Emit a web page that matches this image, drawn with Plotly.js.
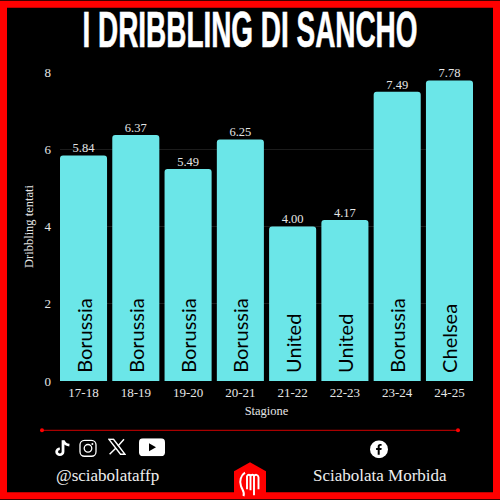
<!DOCTYPE html>
<html>
<head>
<meta charset="utf-8">
<script src="https://cdn.plot.ly/plotly-3.0.1.min.js"></script>
<style>
html,body{margin:0;padding:0;background:#000;width:500px;height:500px;overflow:hidden}
#chart{width:500px;height:500px}
.annotation[data-index="0"] text{transform:scale(.735,1.32);transform-box:fill-box;transform-origin:center;stroke:#fff;stroke-width:.5px}
</style>
</head>
<body>
<div id="chart"></div>
<script>
const seasons = ["17-18","18-19","19-20","20-21","21-22","22-23","23-24","24-25"];
const dribbles = [5.84,6.37,5.49,6.25,4.00,4.17,7.49,7.78];
const clubs = ["Borussia","Borussia","Borussia","Borussia","United","United","Borussia","Chelsea"];
const titleText = "I DRIBBLING DI SANCHO";
const xTitle = "Stagione";
const yTitle = "Dribbling tentati";
const handleText = "@sciabolataffp";
const pageText = "Sciabolata Morbida";

const L=60,T=71.5,W=413,H=310;
const fx=x=>(x-L)/W, fy=y=>(T+H-y)/H;
const svg=(w,h,body)=>"data:image/svg+xml;utf8,"+encodeURIComponent(`<svg xmlns="http://www.w3.org/2000/svg" viewBox="0 0 ${w} ${h}" width="${w}" height="${h}">${body}</svg>`);
const icon=(src,x,y,w,h)=>({source:src,xref:"paper",yref:"paper",x:fx(x),y:fy(y),sizex:w/W,sizey:h/H,xanchor:"left",yanchor:"top",sizing:"stretch",layer:"above"});

const tiktok=svg(16,18,`<path d="M8.5 1v11.5a3 3 0 1 1-3-3" fill="none" stroke="#fff" stroke-width="2.6"/><path d="M9 1.5c.5 2.6 2.4 4 5.5 4.3" fill="none" stroke="#fff" stroke-width="2.6"/>`);
const insta=svg(18,18,`<rect x="1" y="1" width="16" height="16" rx="4.5" fill="none" stroke="#fff" stroke-width="1.3"/><circle cx="9" cy="9" r="3.8" fill="none" stroke="#fff" stroke-width="1.3"/><circle cx="13.4" cy="4.6" r="1" fill="#fff"/>`);
const xicon=svg(18,17,`<path d="M1 1h4.5L17 16h-4.5z" fill="none" stroke="#fff" stroke-width="1.4"/><path d="M16 1 10 7.6M8 9.8 1.6 16" stroke="#fff" stroke-width="1.5"/>`);
const yt=svg(26,18,`<rect x="0" y="0" width="26" height="18" rx="4" fill="#fff"/><path d="M10 5l7 4-7 4z" fill="#000"/>`);
const fb=svg(18,18,`<circle cx="9" cy="9" r="9" fill="#fff"/><path d="M9.7 14.5V9.6h1.7l.3-2H9.7V6.5c0-.6.3-1 1-1h.9V3.8c-.4-.1-.9-.1-1.4-.1-1.6 0-2.5 1-2.5 2.6v1.3H6.1v2h1.6v4.9z" fill="#000"/>`);
const logo=svg(32,37,`<path d="M11 10.5C7 13 5 19 7 24c1.5 4 4 6 2.5 10" fill="none" stroke="#fff" stroke-width="2"/><path d="M13 27V14c1-2 3-2 3.5 0v14M16.5 14c1-2 3-2 3.5 0v19M20 14c1-2 4-2 4.5 1v12" fill="none" stroke="#fff" stroke-width="1.9"/>`);

const dark="#a80000", red="#ff0000";
const data=[
 {type:"bar",x:seasons,y:dribbles,text:clubs.map(c=>"\u00a0"+c),textposition:"inside",insidetextanchor:"start",textangle:-90,
  insidetextfont:{family:"Lato, Open Sans, sans-serif",size:20,color:"#000"},cliponaxis:false,
  marker:{color:"#6be6e8",cornerradius:3,line:{width:0}},hoverinfo:"x+y",width:0.9},
 {type:"scatter",mode:"text",x:seasons,y:dribbles,text:dribbles.map(v=>v.toFixed(2)),textposition:"top center",
  textfont:{family:"Liberation Serif, serif",size:12.5,color:"#e6e6e6"},cliponaxis:false,hoverinfo:"skip"}
];
const layout={
 width:500,height:500,showlegend:false,
 paper_bgcolor:"#000",plot_bgcolor:"#000",
 margin:{l:L,r:500-L-W,t:T,b:500-T-H,pad:0},
 bargap:0.1,
 xaxis:{type:"category",range:[-0.45,7.45],showgrid:false,zeroline:false,showline:false,ticks:"",
  tickfont:{family:"Liberation Serif, serif",size:13,color:"#e6e6e6"},ticklabelstandoff:2,
  title:{text:xTitle,font:{family:"Liberation Serif, serif",size:12.5,color:"#e6e6e6"},standoff:7}},
 yaxis:{range:[0,8],tickvals:[0,2,4,6,8],ticktext:["0","2","4","6","8"],showgrid:true,gridcolor:"#1c1c1c",gridwidth:1,zeroline:false,showline:false,ticks:"",
  tickfont:{family:"Liberation Serif, serif",size:13,color:"#e6e6e6"},ticklabelstandoff:8,
  title:{text:yTitle,font:{family:"Liberation Serif, serif",size:12.5,color:"#e6e6e6"},standoff:8}},
 annotations:[
  {xref:"paper",yref:"paper",x:fx(249.5),y:fy(29),xanchor:"center",yanchor:"middle",showarrow:false,text:"<b>"+titleText+"</b>",
   font:{family:"Liberation Sans Narrow, sans-serif",size:38,color:"#fff"}},
  {xref:"paper",yref:"paper",x:fx(107.5),y:fy(476),xanchor:"center",yanchor:"middle",showarrow:false,text:handleText,
   font:{family:"Liberation Serif, serif",size:17,color:"#eee"}},
  {xref:"paper",yref:"paper",x:fx(379.5),y:fy(476),xanchor:"center",yanchor:"middle",showarrow:false,text:pageText,
   font:{family:"Liberation Serif, serif",size:17,color:"#eee"}}
 ],
 shapes:[
  {type:"rect",xref:"paper",yref:"paper",x0:fx(3.5),x1:fx(496.5),y0:fy(3.5),y1:fy(496.5),line:{color:red,width:7},fillcolor:"rgba(0,0,0,0)",layer:"below"},
  {type:"line",xref:"paper",yref:"paper",x0:fx(42),x1:fx(458),y0:fy(431),y1:fy(431),line:{color:dark,width:1.3},layer:"below"},
  {type:"circle",xref:"paper",yref:"paper",x0:fx(40),x1:fx(44),y0:fy(429),y1:fy(433),fillcolor:red,line:{width:0},layer:"below"},
  {type:"circle",xref:"paper",yref:"paper",x0:fx(456),x1:fx(460),y0:fy(429),y1:fy(433),fillcolor:red,line:{width:0},layer:"below"},
  {type:"path",xref:"paper",yref:"paper",path:`M ${fx(250)} ${fy(463)} L ${fx(266)} ${fy(472)} L ${fx(266)} ${fy(500)} L ${fx(234)} ${fy(500)} L ${fx(234)} ${fy(472)} Z`,fillcolor:red,line:{width:0},layer:"below"}
 ],
 images:[icon(tiktok,54,440,17,18),icon(insta,79,440,18,18),icon(xicon,108,439,18,17),icon(yt,139,439,26,18),icon(fb,370,441,18,18),icon(logo,234,463,32,37)]
};
Plotly.newPlot("chart",data,layout,{displayModeBar:false,staticPlot:true});
</script>
</body>
</html>
